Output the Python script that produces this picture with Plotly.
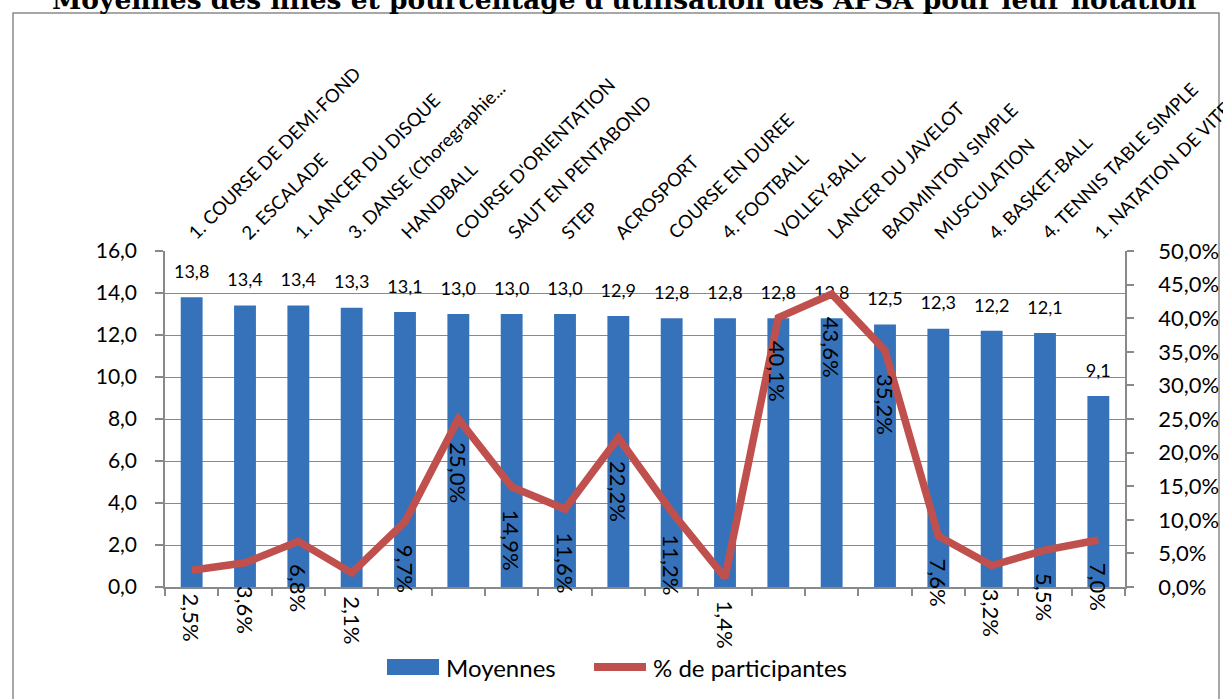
import plotly.graph_objects as go

categories = [
    "1. COURSE DE DEMI-FOND", "2. ESCALADE", "1. LANCER DU DISQUE",
    "3. DANSE (Choregraphie...", "HANDBALL", "COURSE D'ORIENTATION",
    "SAUT EN PENTABOND", "STEP", "ACROSPORT", "COURSE EN DUREE",
    "4. FOOTBALL", "VOLLEY-BALL", "LANCER DU JAVELOT", "BADMINTON SIMPLE",
    "MUSCULATION", "4. BASKET-BALL", "4. TENNIS TABLE SIMPLE",
    "1. NATATION DE VITESSE",
]
moyennes = [13.8, 13.4, 13.4, 13.3, 13.1, 13.0, 13.0, 13.0, 12.9, 12.8,
            12.8, 12.8, 12.8, 12.5, 12.3, 12.2, 12.1, 9.1]
participantes = [2.5, 3.6, 6.8, 2.1, 9.7, 25.0, 14.9, 11.6, 22.2, 11.2,
                 1.4, 40.1, 43.6, 35.2, 7.6, 3.2, 5.5, 7.0]

title_text = "Moyennes des filles et pourcentage d'utilisation des APSA pour leur notation"
legend_names = ["Moyennes", "% de participantes"]

W, H = 1223, 699
ML, MR, MT, MB = 165, 98, 251, 112
PW, PH = W - ML - MR, H - MT - MB
FONT = "Lato"
BLUE = "#3672BA"
RED = "#C0504D"
GRID = "#898989"


def px(xp):
    return (xp - ML) / PW


def py(yp):
    return (H - MB - yp) / PH


fig = go.Figure()

fig.add_trace(go.Bar(
    x=categories, y=moyennes, name=legend_names[0],
    marker=dict(color=BLUE, line=dict(width=0)),
    width=0.41, showlegend=False, yaxis="y",
))

fig.add_trace(go.Scatter(
    x=categories, y=moyennes, mode="markers+text",
    marker=dict(size=22, color="rgba(0,0,0,0)"),
    texttemplate="%{y:.1f}", textposition="top center",
    textfont=dict(family=FONT, size=18, color="black"),
    showlegend=False, hoverinfo="skip", yaxis="y",
))

fig.add_trace(go.Scatter(
    x=categories, y=participantes, mode="lines", name=legend_names[1],
    line=dict(color=RED, width=7.5), showlegend=False, yaxis="y2",
))

annotations = []
# percentage labels (rotated)
for c, v in zip(categories, participantes):
    annotations.append(dict(
        x=c, y=v, xref="x", yref="y2", text=f"{v:.1f}%".replace(".", ","),
        textangle=90, showarrow=False, xanchor="center", yanchor="top",
        yshift=-21, font=dict(family=FONT, size=22, color="black"),
    ))
# category labels at top, rotated -45
for c in categories:
    annotations.append(dict(
        x=c, y=py(246), xref="x", yref="paper", text=c, textangle=-45,
        showarrow=False, xanchor="left", yanchor="bottom", xshift=-11,
        font=dict(family=FONT, size=18.5, color="black"),
    ))
# title (partly cut at the top like the reference)
annotations.append(dict(
    x=px(624), y=py(17), xref="paper", yref="paper", text=f"<b>{title_text}</b>",
    showarrow=False, xanchor="center", yanchor="bottom",
    font=dict(family="DejaVu Serif", size=26.5, color="black"),
))
# manual legend
annotations.append(dict(
    x=px(444), y=py(667), xref="paper", yref="paper", text=legend_names[0],
    showarrow=False, xanchor="left", yanchor="middle",
    font=dict(family=FONT, size=24, color="black"),
))
annotations.append(dict(
    x=px(651), y=py(667), xref="paper", yref="paper", text=legend_names[1],
    showarrow=False, xanchor="left", yanchor="middle",
    font=dict(family=FONT, size=24, color="black"),
))

shapes = [
    dict(type="rect", xref="paper", yref="paper", x0=px(13), x1=px(1219),
         y0=py(710), y1=py(13), line=dict(color="#8A8A8A", width=1.5),
         fillcolor="rgba(0,0,0,0)", layer="below"),
    dict(type="rect", xref="paper", yref="paper", x0=px(387), x1=px(439),
         y0=py(675), y1=py(659), line=dict(width=0), fillcolor=BLUE),
    dict(type="line", xref="paper", yref="paper", x0=px(594), x1=px(646),
         y0=py(667), y1=py(667), line=dict(color=RED, width=8)),
]

fig.update_layout(
    width=W, height=H,
    margin=dict(l=ML, r=MR, t=MT, b=MB, pad=0, autoexpand=False),
    separators=", ",
    paper_bgcolor="white", plot_bgcolor="white",
    bargap=0.59,
    font=dict(family=FONT, color="black"),
    xaxis=dict(
        type="category", range=[-0.5, len(categories) - 0.5],
        showline=True, linecolor=GRID, linewidth=1.5,
        ticks="outside", tickson="boundaries", ticklen=7, tickcolor=GRID,
        tickwidth=1.5, showticklabels=False, showgrid=False, fixedrange=True,
        automargin=False,
    ),
    yaxis=dict(
        range=[0, 16], dtick=2, tick0=0, tickformat=".1f",
        showgrid=True, gridcolor=GRID, gridwidth=1.2,
        showline=True, linecolor=GRID, linewidth=1.5,
        ticks="outside", ticklen=8, tickcolor=GRID, tickwidth=1.5,
        tickfont=dict(family=FONT, size=21, color="black"),
        ticklabelstandoff=14, zeroline=False, automargin=False,
    ),
    yaxis2=dict(
        overlaying="y", side="right", range=[0, 50], dtick=5, tick0=0,
        tickformat=".1f", ticksuffix="%", showgrid=False,
        showline=True, linecolor=GRID, linewidth=1.5,
        ticks="outside", ticklen=7, tickcolor=GRID, tickwidth=1.5,
        tickfont=dict(family=FONT, size=22, color="black"),
        ticklabelstandoff=20, zeroline=False, automargin=False,
    ),
    annotations=annotations,
    shapes=shapes,
    showlegend=False,
)

fig.write_html(
    "out.html",
    config={"displayModeBar": False},
    post_script="document.body.style.margin='0';document.body.style.overflow='hidden';",
)
